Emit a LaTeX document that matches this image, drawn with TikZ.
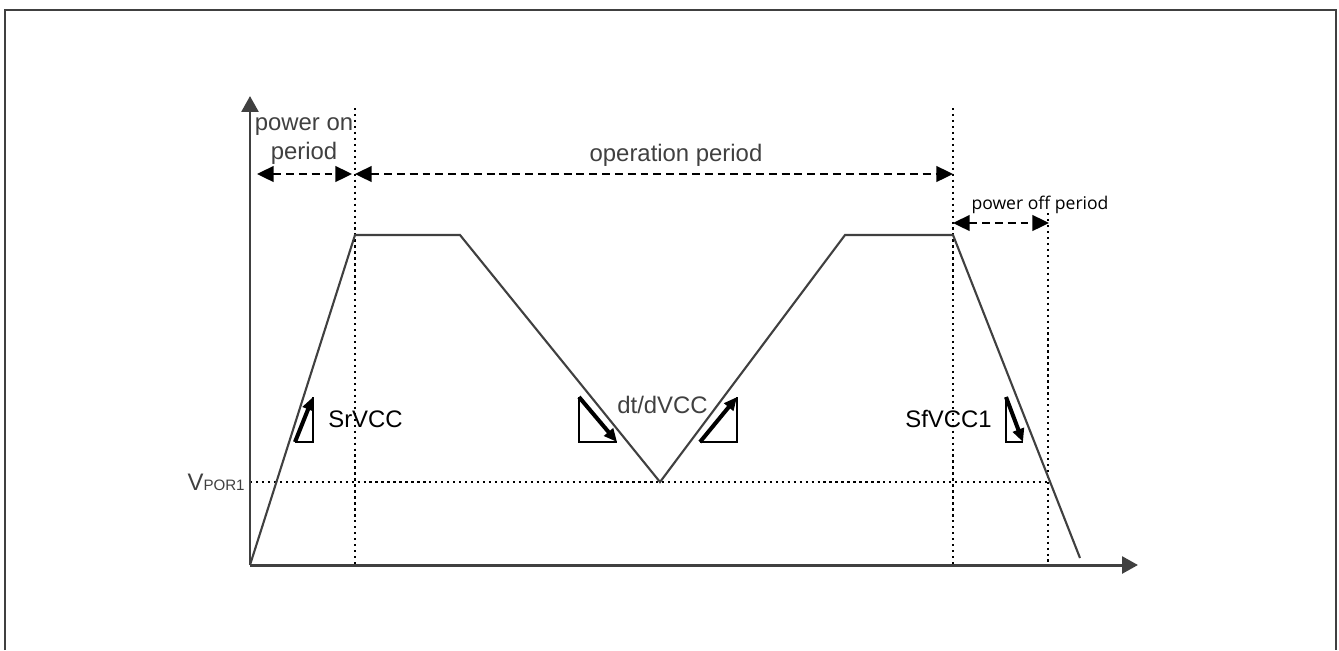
\documentclass[tikz,border=0pt]{standalone}
\usepackage{fontspec}
\setmainfont{Liberation Sans}
\newfontfamily\segoe{Open Sans}
\usetikzlibrary{arrows.meta}
\definecolor{dg}{HTML}{404040}
\begin{document}
\begin{tikzpicture}[x=0.02cm,y=-0.02cm,
  axisline/.style={draw=dg,line width=1.7pt,-{Triangle[length=9pt,width=9.5pt]}},
  wave/.style={draw=dg,line width=1.2pt,line join=miter},
  dotline/.style={draw=black,line width=1.3pt,dash pattern=on 1.3pt off 2.1pt},
  dashline/.style={draw=black,line width=1.1pt,dash pattern=on 4.5pt off 2.8pt,
     {Triangle[length=9.5pt,width=9pt]}-{Triangle[length=9.5pt,width=9pt]}},
  tri/.style={draw=black,line width=0.6pt},
  slope/.style={draw=black,line width=2.3pt,-{Triangle[length=7.5pt,width=6.5pt]}},
  lbl/.style={inner sep=0pt,font=\fontsize{13.6}{16}\selectfont},
]
\useasboundingbox (0,0) rectangle (1339,650);
% frame
\draw[dg,line width=1.1pt] (5,650) -- (5,10) -- (1336,10) -- (1336,650);

% coordinates
\coordinate (o) at (250,565);
\coordinate (ytop) at (250,96);
\coordinate (xend) at (1138,565);
\coordinate (p1) at (355,235);
\coordinate (p2) at (460,235);
\coordinate (p3) at (660,482);
\coordinate (p4) at (845,235);
\coordinate (p5) at (953,235);
\coordinate (p6) at (1080,558);

% dotted guides
\coordinate (d1t) at (355,108); \coordinate (d1b) at (355,565);
\coordinate (d2t) at (953,108); \coordinate (d2b) at (953,565);
\coordinate (d3t) at (1048,213); \coordinate (d3b) at (1048,565);
\coordinate (hl) at (250,482); \coordinate (hr) at (1048,482);
\draw[dotline] (d1t) -- (d1b);
\draw[dotline] (d2t) -- (d2b);
\draw[dotline] (d3t) -- (d3b);
\draw[dotline] (hl) -- (hr);

% axes
\draw[axisline] (o) -- (ytop);
\draw[axisline] (o) -- (xend);

% waveform
\draw[wave] (o) -- (p1) -- (p2) -- (p3) -- (p4) -- (p5) -- (p6);

% period arrows
\coordinate (a1l) at (257,174); \coordinate (a1r) at (352,174);
\coordinate (a2l) at (355,174); \coordinate (a2r) at (953,174);
\coordinate (a3l) at (953,223); \coordinate (a3r) at (1049,223);
\draw[dashline] (a1l) -- (a1r);
\draw[dashline] (a2l) -- (a2r);
\draw[dashline] (a3l) -- (a3r);

% labels
\node[lbl,text=dg,anchor=base] (pon1) at (304,130) {power on};
\node[lbl,text=dg,anchor=base] (pon2) at (304,159) {period};
\node[lbl,text=dg,anchor=base] (oper) at (676,161) {operation period};
\node[inner sep=0pt,anchor=base,font=\segoe\fontsize{10}{12}\selectfont] (poff) at (1040,209) {power off period};
\node[lbl,anchor=base west] (sr) at (328,427) {SrVCC};
\node[lbl,text=dg,anchor=base west] (dt) at (617,413) {dt/dVCC};
\node[lbl,anchor=base west] (sf) at (905,427) {SfVCC1};
\node[inner sep=0pt,anchor=base east,text=dg] (vpor) at (245,490) {\fontsize{13.6}{16}\selectfont V\fontsize{8.6}{10}\selectfont POR1};

% slope triangles
\coordinate (s1a) at (295,442); \coordinate (s1b) at (313,442); \coordinate (s1c) at (313,397);
\draw[tri] (s1a) -- (s1b) -- (s1c);
\draw[slope] (s1a) -- (s1c);

\coordinate (s2a) at (579,397); \coordinate (s2b) at (579,442); \coordinate (s2c) at (617,442);
\draw[tri] (s2a) -- (s2b) -- (s2c);
\draw[slope] (s2a) -- (s2c);

\coordinate (s3a) at (700,442); \coordinate (s3b) at (737,442); \coordinate (s3c) at (737,397);
\draw[tri] (s3a) -- (s3b) -- (s3c);
\draw[slope] (s3a) -- (s3c);

\coordinate (s4a) at (1006,397); \coordinate (s4b) at (1006,442); \coordinate (s4c) at (1023,442);
\draw[tri] (s4a) -- (s4b) -- (s4c);
\draw[slope] (s4a) -- (s4c);
\end{tikzpicture}
\end{document}
